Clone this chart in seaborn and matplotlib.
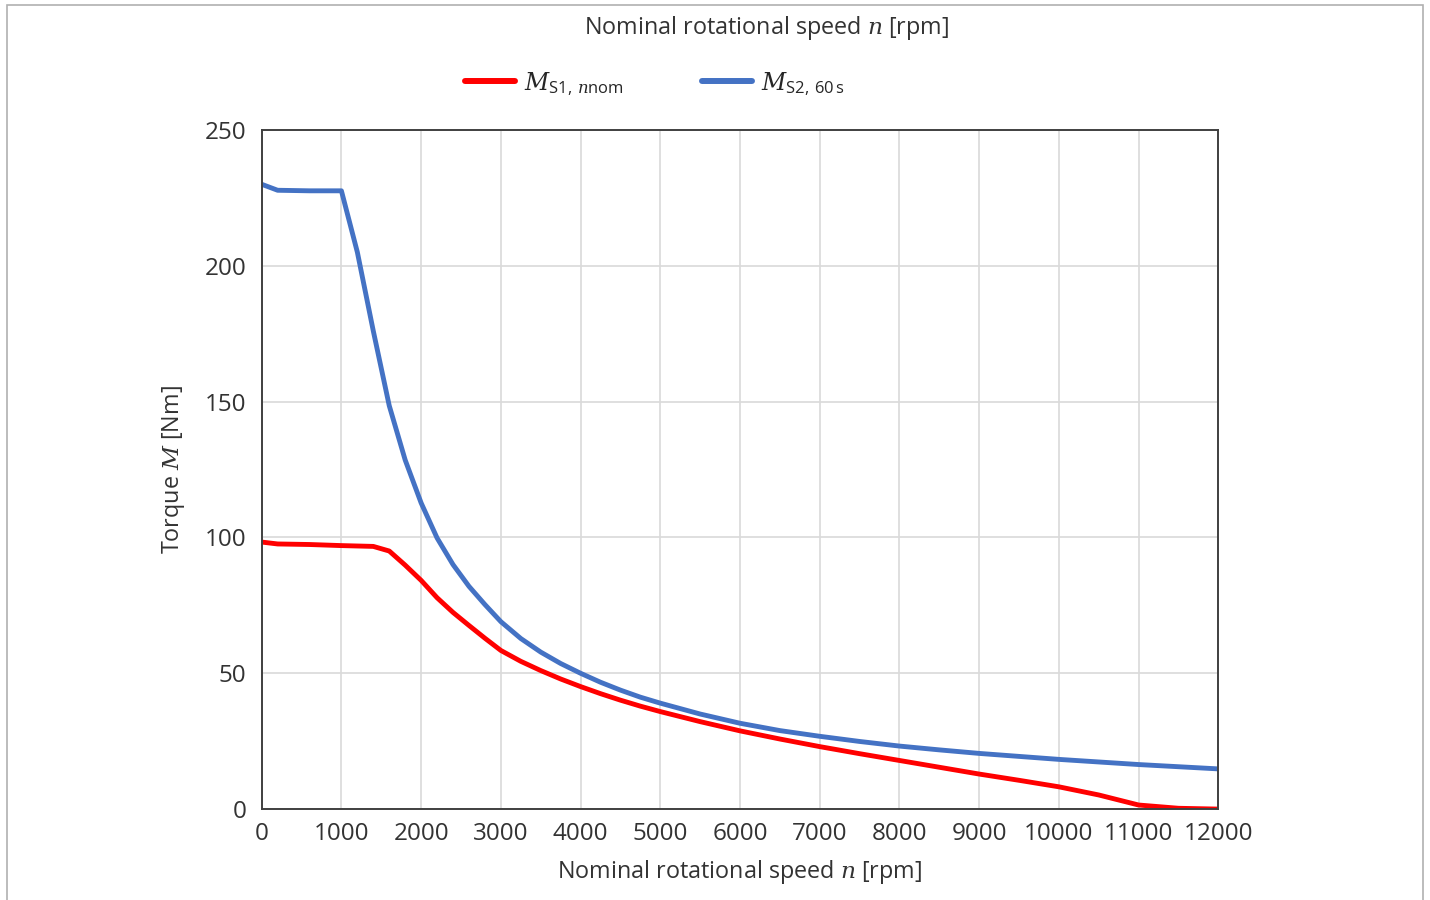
import matplotlib
matplotlib.use("Agg")
import matplotlib.pyplot as plt
import seaborn as sns
import pandas as pd
from matplotlib.patches import Rectangle

# Torque characteristic values (speed in rpm, torque in Nm)
speed_s1 = [0, 200, 600, 1000, 1400, 1600, 1800, 2000, 2200, 2400, 2600, 2800, 3000,
            3250, 3500, 3750, 4000, 4250, 4500, 4750, 5000, 5500, 6000, 6500, 7000,
            7500, 8000, 8500, 9000, 9500, 10000, 10500, 11000, 11500, 12000]
torque_s1 = [98.3, 97.6, 97.4, 97.0, 96.7, 95.0, 89.8, 84.2, 77.8, 72.4, 67.6, 62.9, 58.4,
             54.4, 51.0, 47.9, 45.1, 42.5, 40.1, 37.9, 35.9, 32.2, 28.8, 25.8, 23.0,
             20.4, 17.9, 15.4, 12.9, 10.6, 8.2, 5.2, 1.5, 0.3, 0.0]

speed_s2 = [0, 200, 600, 1000, 1200, 1400, 1600, 1800, 2000, 2200, 2400, 2600, 2800, 3000,
            3250, 3500, 3750, 4000, 4250, 4500, 4750, 5000, 5500, 6000, 6500, 7000,
            7500, 8000, 8500, 9000, 9500, 10000, 11000, 12000]
torque_s2 = [230.0, 227.8, 227.6, 227.6, 205.0, 176.0, 148.5, 128.5, 112.7, 99.8, 90.0, 82.0,
             75.3, 69.0, 62.8, 57.8, 53.6, 50.0, 46.7, 43.8, 41.2, 39.0, 35.0, 31.6, 28.9,
             26.8, 24.9, 23.2, 21.8, 20.5, 19.4, 18.3, 16.4, 14.8]

label_s1 = r"$M_{\mathrm{S1,\,}n\mathrm{nom}}$"
label_s2 = r"$M_{\mathrm{S2,\,60\,s}}$"

x_ticks = list(range(0, 12001, 1000))
y_ticks = [0, 50, 100, 150, 200, 250]

df = pd.concat([
    pd.DataFrame({"speed": speed_s1, "torque": torque_s1, "curve": label_s1}),
    pd.DataFrame({"speed": speed_s2, "torque": torque_s2, "curve": label_s2}),
])

sns.set_theme(style="white")
plt.rcParams["font.family"] = ["Open Sans", "DejaVu Sans"]
plt.rcParams["mathtext.fontset"] = "custom"
plt.rcParams["mathtext.rm"] = "Open Sans"
plt.rcParams["mathtext.it"] = "DejaVu Serif:italic"
plt.rcParams["mathtext.bf"] = "DejaVu Serif:bold"

text_color = "#333333"
fs = 16.8
tick_fs = 17.5

fig = plt.figure(figsize=(14.3, 9.0), dpi=100)
ax = fig.add_axes([0.183, 0.101, 0.669, 0.7546])

palette = {label_s1: "#ff0000", label_s2: "#4472c4"}
sns.lineplot(data=df, x="speed", y="torque", hue="curve", palette=palette,
             linewidth=3.5, ax=ax, legend=True, sort=False)
for ln in ax.lines:
    ln.set_solid_capstyle("round")
    ln.set_solid_joinstyle("round")

ax.set_xlim(0, 12000)
ax.set_ylim(0, 250)
ax.set_xticks(x_ticks)
ax.set_yticks(y_ticks)
ax.tick_params(axis="both", length=0, labelsize=tick_fs, labelcolor=text_color)
ax.tick_params(axis="x", pad=9)
ax.tick_params(axis="y", pad=11)
ax.grid(True, color="#d9d9d9", linewidth=1.2)
ax.set_axisbelow(True)
for sp in ax.spines.values():
    sp.set_color("#404040")
    sp.set_linewidth(1.4)

ax.set_xlabel(r"Nominal rotational speed $n$ [rpm]", fontsize=fs, color=text_color, labelpad=9)
ax.set_ylabel(r"Torque $M$ [Nm]", fontsize=fs, color=text_color, labelpad=13)

fig.text(0.536, 0.969, r"Nominal rotational speed $n$ [rpm]", ha="center", va="center",
         fontsize=fs, color=text_color)

handles, labels = ax.get_legend_handles_labels()
ax.legend(handles, labels, loc="center", bbox_to_anchor=(0.458, 0.907),
          bbox_transform=fig.transFigure, ncol=2, frameon=False, fontsize=17,
          handlelength=2.1, columnspacing=3.3, handletextpad=0.4)
for h in ax.get_legend().get_lines():
    h.set_linewidth(4.3)
    h.set_solid_capstyle("round")

fig.patches.append(Rectangle((0.005, -0.01), 0.99, 1.004, transform=fig.transFigure,
                             fill=False, edgecolor="#b0b0b0", linewidth=1.2))

fig.savefig("out.png", dpi=100, facecolor="white")
